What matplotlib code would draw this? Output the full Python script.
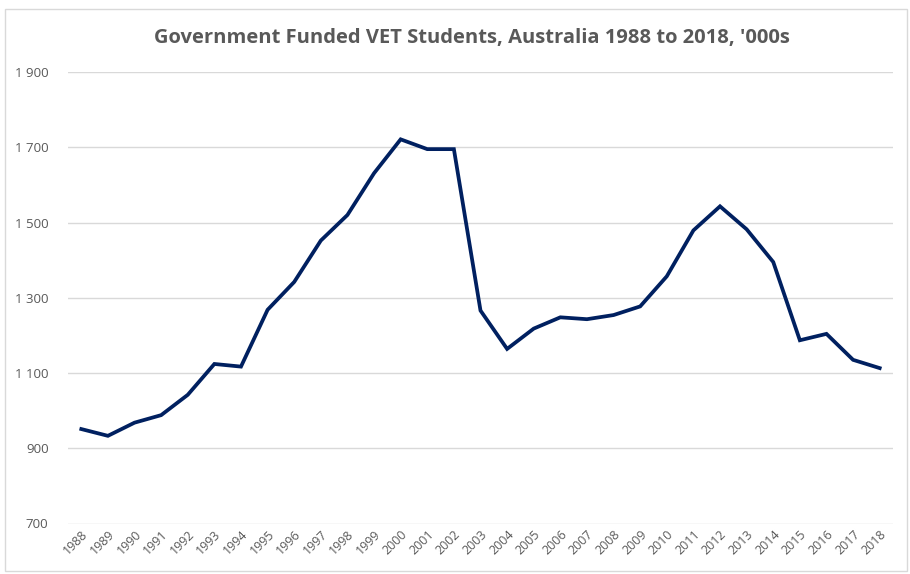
import matplotlib
matplotlib.use('Agg')
import matplotlib.pyplot as plt
from matplotlib.patches import Rectangle
from matplotlib.ticker import FuncFormatter

# Data ('000s)
years = list(range(1988, 2019))
students = [951, 933, 968, 988, 1042, 1124, 1117, 1268, 1342, 1452, 1520,
            1631, 1721, 1695, 1695, 1266, 1164, 1218, 1248, 1243, 1254,
            1277, 1357, 1479, 1543, 1482, 1395, 1187, 1204, 1135, 1113]
y_ticks = [700, 900, 1100, 1300, 1500, 1700, 1900]

plt.rcParams['font.family'] = ['Open Sans', 'DejaVu Sans']

fig = plt.figure(figsize=(9.1, 5.74), dpi=100)
ax = fig.add_axes([68 / 910, 1 - 523.5 / 574, 825 / 910, 451.5 / 574])

# Chart area border
fig.patches.append(Rectangle((5 / 910, 3 / 574), 902 / 910, 562 / 574,
                             transform=fig.transFigure, fill=False,
                             edgecolor='#d9d9d9', linewidth=1))

x = list(range(len(years)))
ax.plot(x, students, color='#002060', linewidth=2.7, solid_joinstyle='miter')

ax.set_xlim(-0.5, len(years) - 0.5)
ax.set_ylim(700, 1900)
ax.set_yticks(y_ticks)
ax.yaxis.set_major_formatter(FuncFormatter(lambda v, p: f'{int(v):,}'.replace(',', ' ')))
ax.set_xticks(x)
ax.set_xticklabels([str(y) for y in years], rotation=45, ha='right',
                   rotation_mode='anchor', fontsize=9, color='#595959')
ax.tick_params(axis='y', labelsize=9.5, colors='#595959', length=0, pad=14)
ax.tick_params(axis='x', length=0, pad=3)

ax.grid(axis='y', color='#d9d9d9', linewidth=1)
ax.set_axisbelow(True)
for s in ax.spines.values():
    s.set_visible(False)

fig.text(472 / 910, 1 - 38 / 574, "Government Funded VET Students, Australia 1988 to 2018, '000s",
         ha='center', va='center', fontsize=14.5, fontweight='bold', color='#595959')

fig.savefig('out.png', dpi=100)
